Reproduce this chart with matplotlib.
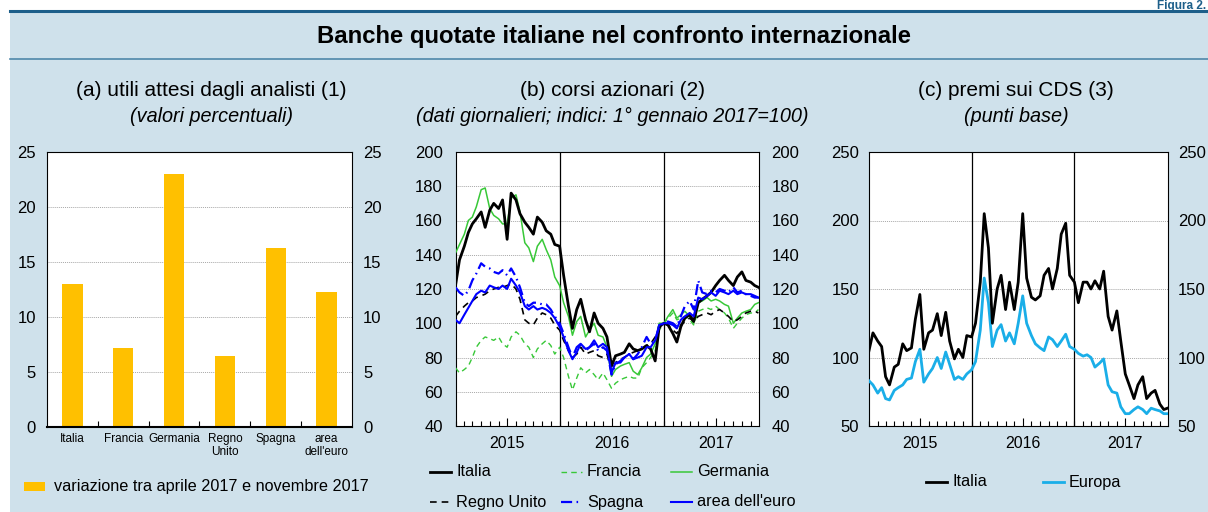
import numpy as np
import pandas as pd
import matplotlib
matplotlib.use("Agg")
import matplotlib.pyplot as plt
import matplotlib.dates as mdates
from matplotlib.lines import Line2D
from matplotlib.patches import Rectangle

plt.rcParams['font.family'] = ['Liberation Sans', 'DejaVu Sans']

# ---- data ----
# (a) expected earnings
paesi_a = ["Italia", "Francia", "Germania", "Regno\nUnito", "Spagna", "area\ndell'euro"]
utili = [13.0, 7.2, 23.0, 6.5, 16.3, 12.3]

# semi-monthly dates (1st and 15th) Jan 2015 - Nov 2017, plus last obs
date = list(pd.date_range("2015-01-01", "2017-11-15", freq="SMS")) + [pd.Timestamp("2017-11-28")]

# (b) share prices, 1 Jan 2017 = 100
it_b = [122, 137, 145, 153, 158, 161, 165, 156, 166, 170, 167, 172, 149, 176, 172, 164, 159, 156, 152, 162, 159, 154, 152, 146,
        145, 128, 110, 97, 108, 114, 102, 95, 106, 100, 97, 92, 75, 81, 82, 83, 88, 85, 84, 85, 87, 85, 78, 98,
        100, 99, 94, 89, 98, 103, 105, 101, 112, 114, 116, 118, 122, 125, 128, 125, 122, 127, 130, 125, 124, 122, 121]
fr_b = [74, 71, 73, 75, 80, 86, 90, 92, 91, 90, 92, 88, 86, 92, 95, 93, 88, 86, 80, 85, 88, 90, 87, 82,
        86, 80, 69, 61, 68, 74, 71, 73, 70, 67, 71, 67, 62, 65, 67, 68, 69, 68, 68, 74, 77, 80, 84, 96,
        100, 103, 106, 102, 103, 104, 102, 99, 107, 108, 109, 108, 110, 108, 106, 103, 97, 100, 103, 105, 106, 106, 108]
de_b = [141, 146, 152, 160, 162, 168, 178, 179, 167, 163, 161, 158, 158, 173, 175, 165, 147, 144, 136, 145, 149, 143, 137, 127,
        122, 112, 104, 93, 101, 104, 92, 96, 100, 93, 92, 86, 69, 73, 75, 76, 77, 72, 70, 74, 80, 82, 88, 100,
        100, 104, 108, 103, 105, 107, 104, 100, 112, 113, 115, 113, 114, 113, 111, 110, 100, 103, 106, 107, 108, 111, 112]
uk_b = [104, 107, 110, 112, 113, 115, 116, 117, 119, 120, 121, 121, 122, 123, 120, 114, 102, 100, 99, 103, 106, 105, 103, 99,
        96, 90, 84, 80, 82, 86, 82, 83, 84, 81, 80, 82, 72, 77, 79, 80, 82, 83, 84, 85, 87, 88, 92, 97,
        100, 99, 96, 94, 99, 101, 103, 101, 104, 105, 106, 105, 107, 108, 106, 104, 101, 102, 104, 106, 107, 107, 106]
es_b = [121, 118, 116, 119, 125, 129, 135, 133, 132, 130, 129, 131, 128, 132, 127, 121, 112, 110, 112, 112, 111, 111, 108, 104,
        100, 94, 86, 80, 86, 88, 84, 86, 88, 84, 86, 84, 70, 76, 78, 80, 82, 79, 82, 86, 92, 88, 90, 98,
        100, 101, 100, 98, 104, 110, 113, 108, 125, 118, 117, 119, 118, 120, 119, 118, 121, 118, 119, 117, 116, 115, 115]
ea_b = [102, 100, 105, 109, 113, 117, 119, 118, 122, 121, 120, 122, 120, 126, 122, 118, 110, 108, 110, 108, 109, 108, 106, 103,
        98, 92, 84, 79, 83, 88, 85, 86, 90, 86, 88, 86, 71, 77, 77, 80, 82, 79, 80, 81, 86, 86, 90, 99,
        100, 100, 99, 97, 102, 104, 106, 104, 115, 114, 116, 118, 116, 119, 118, 117, 119, 117, 118, 117, 117, 116, 115]

# (c) CDS premia, basis points
it_c = [105, 118, 112, 108, 86, 80, 93, 95, 110, 105, 107, 128, 146, 106, 118, 120, 132, 116, 133, 112, 99, 106, 100, 116,
        115, 125, 155, 205, 180, 125, 150, 160, 135, 155, 135, 155, 205, 158, 144, 142, 145, 160, 165, 150, 165, 190, 198, 160,
        155, 140, 155, 155, 150, 156, 150, 163, 130, 120, 134, 112, 88, 80, 70, 80, 86, 70, 74, 76, 66, 62, 63]
eu_c = [83, 80, 74, 78, 70, 69, 76, 78, 80, 84, 85, 97, 106, 82, 88, 92, 100, 92, 104, 95, 84, 86, 84, 88,
        91, 97, 120, 158, 140, 108, 120, 124, 112, 118, 110, 125, 145, 125, 116, 110, 107, 105, 115, 113, 108, 112, 117, 108,
        106, 103, 101, 102, 100, 93, 96, 99, 80, 75, 74, 64, 59, 59, 62, 64, 62, 59, 63, 62, 61, 59, 59]

# ---- figure ----
W, H = 1208, 512
fig = plt.figure(figsize=(W / 100, H / 100), dpi=100)


def fx(px):
    return px / W


def fy(py):
    return 1 - py / H


bg = '#CFE1EB'
fig.add_artist(Rectangle((fx(10), 0), 1 - fx(10), fy(12), transform=fig.transFigure,
                         facecolor=bg, edgecolor='none', zorder=0))
fig.add_artist(Line2D([fx(10), 1], [fy(11), fy(11)], color='#1d5f8a', lw=2.2))
fig.add_artist(Line2D([fx(10), 1], [fy(58.5), fy(58.5)], color='#4f87aa', lw=1.2))
fig.text(fx(1206), fy(9), 'Figura 2.', ha='right', va='baseline', fontsize=8.5,
         fontweight='bold', color='#1d5f8a')
fig.text(fx(614), fy(37), 'Banche quotate italiane nel confronto internazionale',
         ha='center', va='center', fontsize=17.2, fontweight='bold')

titoli = [(211, '(a) utili attesi dagli analisti (1)', '(valori percentuali)'),
          (612, '(b) corsi azionari (2)', '(dati giornalieri; indici: 1° gennaio 2017=100)'),
          (1016, '(c) premi sui CDS (3)', '(punti base)')]
for x, t1, t2 in titoli:
    fig.text(fx(x), fy(90), t1, ha='center', va='center', fontsize=15)
    fig.text(fx(x), fy(116), t2, ha='center', va='center', fontsize=14.3, style='italic')

ax_a = fig.add_axes([fx(47), fy(427), (352 - 47) / W, 275 / H])
ax_b = fig.add_axes([fx(455.5), fy(426), (759 - 455.5) / W, 274 / H])
ax_c = fig.add_axes([fx(869), fy(426), (1168 - 869) / W, 274 / H])

gridkw = dict(color='#a8a8a8', lw=0.7, ls=(0, (1, 1)))

# panel a
x = np.arange(len(paesi_a))
ax_a.bar(x, utili, width=0.4, color='#FFC000', zorder=2)
ax_a.set_xlim(-0.5, 5.5)
ax_a.set_ylim(0, 25)
ax_a.set_yticks(range(0, 26, 5))
ax_a.set_xticks(x)
ax_a.set_xticklabels(paesi_a, fontsize=8.5, linespacing=1.15)
ax_a.set_xticks(x[:-1] + 0.5, minor=True)
ax_a.tick_params(axis='x', which='major', length=0, pad=4)
ax_a.tick_params(axis='x', which='minor', direction='in', length=4, width=0.8)
ax_a.tick_params(axis='y', length=0, labelright=True, labelsize=12, pad=8)
ax_a.grid(axis='y', **gridkw)
ax_a.set_axisbelow(True)
ax_a.spines['bottom'].set_linewidth(1.5)


def style_time(ax, pad):
    ax.xaxis.set_major_locator(mdates.MonthLocator(bymonth=7))
    ax.xaxis.set_major_formatter(mdates.DateFormatter('%Y'))
    ax.xaxis.set_minor_locator(mdates.MonthLocator())
    ax.tick_params(axis='x', which='major', direction='in', length=6, width=0.8, pad=7, labelsize=11.5)
    ax.tick_params(axis='x', which='minor', direction='in', length=3.5, width=0.8)
    ax.tick_params(axis='y', length=0, labelright=True, labelsize=12, pad=pad)
    ax.grid(axis='y', **gridkw)
    ax.set_axisbelow(True)
    ax.set_xlim(pd.Timestamp('2015-01-01'), pd.Timestamp('2017-11-30'))
    for d in ['2016-01-01', '2017-01-01']:
        ax.axvline(pd.Timestamp(d), color='black', lw=0.9, zorder=1)


green = '#38C838'
blue = '#0000FF'
sky = '#1AAEE8'

# panel b
style_b = {
    'Francia': dict(color=green, lw=1.0, ls=(0, (4, 3))),
    'Germania': dict(color=green, lw=1.1, ls='-'),
    'Regno Unito': dict(color='black', lw=1.2, ls=(0, (4, 3))),
    'Italia': dict(color='black', lw=2.0, ls='-'),
    'area dell\'euro': dict(color=blue, lw=1.5, ls='-'),
    'Spagna': dict(color=blue, lw=1.6, ls=(0, (5, 2, 0.7, 2))),
}
serie_b = {'Francia': fr_b, 'Germania': de_b, 'Regno Unito': uk_b,
           'Italia': it_b, 'area dell\'euro': ea_b, 'Spagna': es_b}
for k, v in serie_b.items():
    ax_b.plot(date, v, **style_b[k], zorder=3)
style_time(ax_b, 9)
ax_b.set_ylim(40, 200)
ax_b.set_yticks(range(40, 201, 20))

# panel c
ax_c.plot(date, eu_c, color=sky, lw=2.0, zorder=3)
ax_c.plot(date, it_c, color='black', lw=2.0, zorder=3)
style_time(ax_c, 7)
ax_c.set_ylim(50, 250)
ax_c.set_yticks(range(50, 251, 50))

for ax in (ax_a, ax_b, ax_c):
    for s in ax.spines.values():
        s.set_color('black')


# legends (drawn by hand to keep the reference's fixed columns)
def leg_line(x0, y, label, **kw):
    fig.add_artist(Line2D([fx(x0), fx(x0 + 21)], [fy(y), fy(y)], **kw))
    fig.text(fx(x0 + 26), fy(y), label, ha='left', va='center', fontsize=11.7)


fig.add_artist(Rectangle((fx(24), fy(491)), 21 / W, 9 / H, transform=fig.transFigure,
                         facecolor='#FFC000', edgecolor='none'))
fig.text(fx(54), fy(487), 'variazione tra aprile 2017 e novembre 2017', ha='left',
         va='center', fontsize=11.7)

pos_b = {'Italia': (430, 472), 'Francia': (561, 472), 'Germania': (671, 472),
         'Regno Unito': (430, 502), 'Spagna': (561, 502), 'area dell\'euro': (671, 502)}
for k, (x0, y0) in pos_b.items():
    leg_line(x0, y0, k, **style_b[k])

leg_line(926, 482, 'Italia', color='black', lw=2.0)
leg_line(1043, 482, 'Europa', color=sky, lw=2.0)

fig.savefig('out.png', dpi=100)
